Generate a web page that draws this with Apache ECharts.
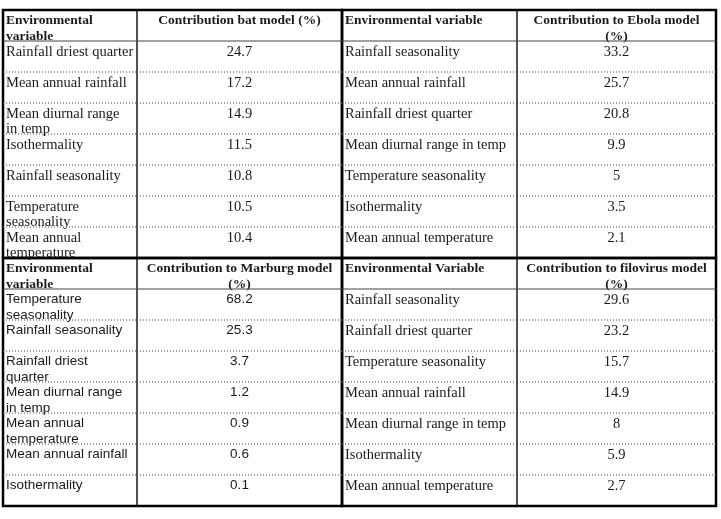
<!DOCTYPE html>
<html><head><meta charset="utf-8">
<script src="https://cdn.jsdelivr.net/npm/echarts@6/dist/echarts.min.js"></script>
<style>html,body{margin:0;padding:0;background:#fff}#c{width:721px;height:519px}</style>
</head><body><div id="c"></div>
<script>
// ---- data ----
const rowKeys = ['header','r1','r2','r3','r4','r5','r6','r7'];

const batHeader = ['Environmental\nvariable', 'Contribution bat model (%)'];
const batVars = ['Rainfall driest quarter','Mean annual rainfall','Mean diurnal range\nin temp','Isothermality','Rainfall seasonality','Temperature\nseasonality','Mean annual\ntemperature'];
const batVals = [24.7, 17.2, 14.9, 11.5, 10.8, 10.5, 10.4];

const ebolaHeader = ['Environmental variable', 'Contribution to Ebola model\n(%)'];
const ebolaVars = ['Rainfall seasonality','Mean annual rainfall','Rainfall driest quarter','Mean diurnal range in temp','Temperature seasonality','Isothermality','Mean annual temperature'];
const ebolaVals = [33.2, 25.7, 20.8, 9.9, 5, 3.5, 2.1];

const marburgHeader = ['Environmental\nvariable', 'Contribution to Marburg model\n(%)'];
const marburgVars = ['Temperature\nseasonality','Rainfall seasonality','Rainfall driest\nquarter','Mean diurnal range\nin temp','Mean annual\ntemperature','Mean annual rainfall','Isothermality'];
const marburgVals = [68.2, 25.3, 3.7, 1.2, 0.9, 0.6, 0.1];

const filoHeader = ['Environmental Variable', 'Contribution to filovirus model\n(%)'];
const filoVars = ['Rainfall seasonality','Rainfall driest quarter','Temperature seasonality','Mean annual rainfall','Mean diurnal range in temp','Isothermality','Mean annual temperature'];
const filoVals = [29.6, 23.2, 15.7, 14.9, 8, 5.9, 2.7];

// ---- layout ----
const SERIF = '"Liberation Serif","Times New Roman",serif';
const SANS = '"Liberation Sans",Arial,sans-serif';
const quads = [
  {header: batHeader, vars: batVars, vals: batVals, body: '14.5px ' + SERIF, left: 3, top: 10, w: [134, 205]},
  {header: ebolaHeader, vars: ebolaVars, vals: ebolaVals, body: '14.5px ' + SERIF, left: 342, top: 10, w: [175, 199]},
  {header: marburgHeader, vars: marburgVars, vals: marburgVals, body: '13.5px ' + SANS, left: 3, top: 258, w: [134, 205]},
  {header: filoHeader, vars: filoVars, vals: filoVals, body: '14.5px ' + SERIF, left: 342, top: 258, w: [175, 199]}
];
const H = 248;

const grid = [], xAxis = [], yAxis = [], series = [];
quads.forEach((q, qi) => {
  for (let c = 0; c < 2; c++) {
    const gi = grid.length;
    grid.push({left: q.left + (c === 0 ? 0 : q.w[0]), top: q.top, width: q.w[c], height: H,
      show: true, borderColor: '#333', borderWidth: 1.2, backgroundColor: 'transparent'});
    xAxis.push({type: 'category', gridIndex: gi, data: ['col'], show: false});
    yAxis.push({type: 'category', gridIndex: gi, data: rowKeys, inverse: true, show: false});
    const texts = [q.header[c]].concat(c === 0 ? q.vars : q.vals.map(String));
    series.push({
      type: 'custom', xAxisIndex: gi, yAxisIndex: gi,
      data: rowKeys.map((k, i) => [0, i]),
      encode: {x: 0, y: 1},
      silent: true,
      renderItem: function (params, api) {
        const row = api.value(1);
        const ctr = api.coord([0, row]);
        const sz = api.size([1, 1]);
        const x0 = ctr[0] - sz[0] / 2, y0 = ctr[1] - sz[1] / 2;
        const isHead = row === 0;
        const children = [{
          type: 'text',
          style: {
            x: c === 0 ? x0 + 3 : ctr[0],
            y: y0 + 3,
            text: texts[params.dataIndex],
            align: c === 0 ? 'left' : 'center',
            verticalAlign: 'top',
            lineHeight: isHead ? 16 : 15.5,
            font: (isHead ? 'bold 13.5px ' + SERIF : q.body),
            fill: '#1a1a1a'
          }
        }];
        if (row < rowKeys.length - 1) {
          children.push({
            type: 'line',
            shape: {x1: x0, y1: y0 + sz[1], x2: x0 + sz[0], y2: y0 + sz[1]},
            style: isHead ? {stroke: '#444', lineWidth: 1.2}
                          : {stroke: '#444', lineWidth: 1, lineDash: [1, 2]}
          });
        }
        return {type: 'group', children: children};
      }
    });
  }
});
// quadrant frames (thick)
quads.forEach(q => {
  const gi = grid.length;
  grid.push({left: q.left, top: q.top, width: q.w[0] + q.w[1], height: H,
    show: true, borderColor: '#000', borderWidth: 2.5, backgroundColor: 'transparent'});
  xAxis.push({type: 'category', gridIndex: gi, data: ['q'], show: false});
  yAxis.push({type: 'category', gridIndex: gi, data: ['q'], show: false});
});

const chart = echarts.init(document.getElementById('c'), null, {renderer: 'canvas'});
chart.setOption({animation: false, backgroundColor: '#fff', grid, xAxis, yAxis, series});
</script>
</body></html>
